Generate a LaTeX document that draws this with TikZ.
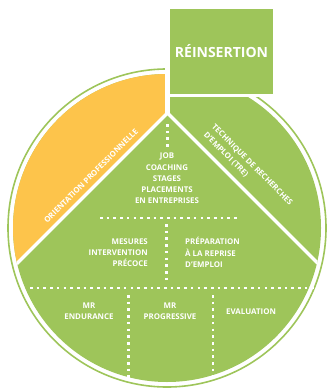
\documentclass[tikz,border=0pt]{standalone}
\usepackage{fontspec}
\setmainfont{Open Sans}
\definecolor{leaf}{HTML}{9EC55A}
\definecolor{sun}{HTML}{FDC44B}
\tikzset{
  txt/.style={text=white,font=\bfseries\fontsize{7.9}{11.3}\selectfont,inner sep=0pt},
  whitecut/.style={draw=white,line width=3.5pt},
  dotline/.style={draw=white,line width=2.6pt,dash pattern=on 2.6pt off 4.1pt}
}
\begin{document}
\begin{tikzpicture}[x=1pt,y=-1pt]
\useasboundingbox (0,0) rectangle (329,390);
\coordinate (C) at (167,228);
\coordinate (A) at (167.5,113);

% disc and sectors
\draw[leaf,line width=1.6pt] (C) circle[radius=159pt];
\fill[leaf] (C) circle[radius=154pt];
\begin{scope}
  \clip (C) circle[radius=154pt];
  \fill[sun] (A) -- ++(-200,200) -- (-10,-10) -- (167.5,-10) -- cycle;
  \draw[whitecut] (A) -- ++(-200,200);
  \draw[whitecut] (A) -- ++(200,200);
\end{scope}
\draw[whitecut,line width=5pt] (167.5,50) -- (A);
\draw[whitecut,line width=4pt] (167.5,95.5) -- (329,95.5);

\node[fill=leaf,draw=white,line width=2pt,minimum width=105pt,minimum height=87pt,
  text=white,font=\bfseries\fontsize{14}{16}\selectfont] (box) at (221.5,51.5) {RÉINSERTION};

% dotted dividers
\coordinate (t1) at (167.5,124);  \coordinate (t2) at (167.5,148);
\coordinate (h1) at (100,218);    \coordinate (h2) at (238,218);
\coordinate (m1) at (166.5,224);  \coordinate (m2) at (166.5,280);
\coordinate (b1) at (30,288);     \coordinate (b2) at (316,288);
\coordinate (l1) at (128.5,295);  \coordinate (l2) at (128.5,380);
\coordinate (r1) at (213,295);    \coordinate (r2) at (213,380);
\path[dotline] (t1) -- (t2);
\path[dotline] (h1) -- (h2);
\path[dotline] (m1) -- (m2);
\path[dotline] (b1) -- (b2);
\path[dotline] (l1) -- (l2);
\path[dotline] (r1) -- (r2);

% labels
\node[txt,rotate=45] (orient) at (91,176) {ORIENTATION PROFESSIONNELLE};
\node[txt,rotate=-45,align=left] (tre) at (248,169) {TECHNIQUE DE RECHERCHES\\D'EMPLOI (TRE)};
\node[txt,align=center] (job) at (167,178.5) {JOB\\COACHING\\STAGES\\PLACEMENTS\\EN ENTREPRISES};
\node[txt,align=right,anchor=east] (mes) at (148,252.5) {MESURES\\INTERVENTION\\PRÉCOCE};
\node[txt,align=left,anchor=west] (prep) at (185,252.5) {PRÉPARATION\\À LA REPRISE\\D'EMPLOI};
\node[txt,align=center] (endu) at (89,311) {MR\\ENDURANCE};
\node[txt,align=center] (prog) at (170,311) {MR\\PROGRESSIVE};
\node[txt,anchor=west] (eval) at (226,312) {EVALUATION};
\end{tikzpicture}
\end{document}
